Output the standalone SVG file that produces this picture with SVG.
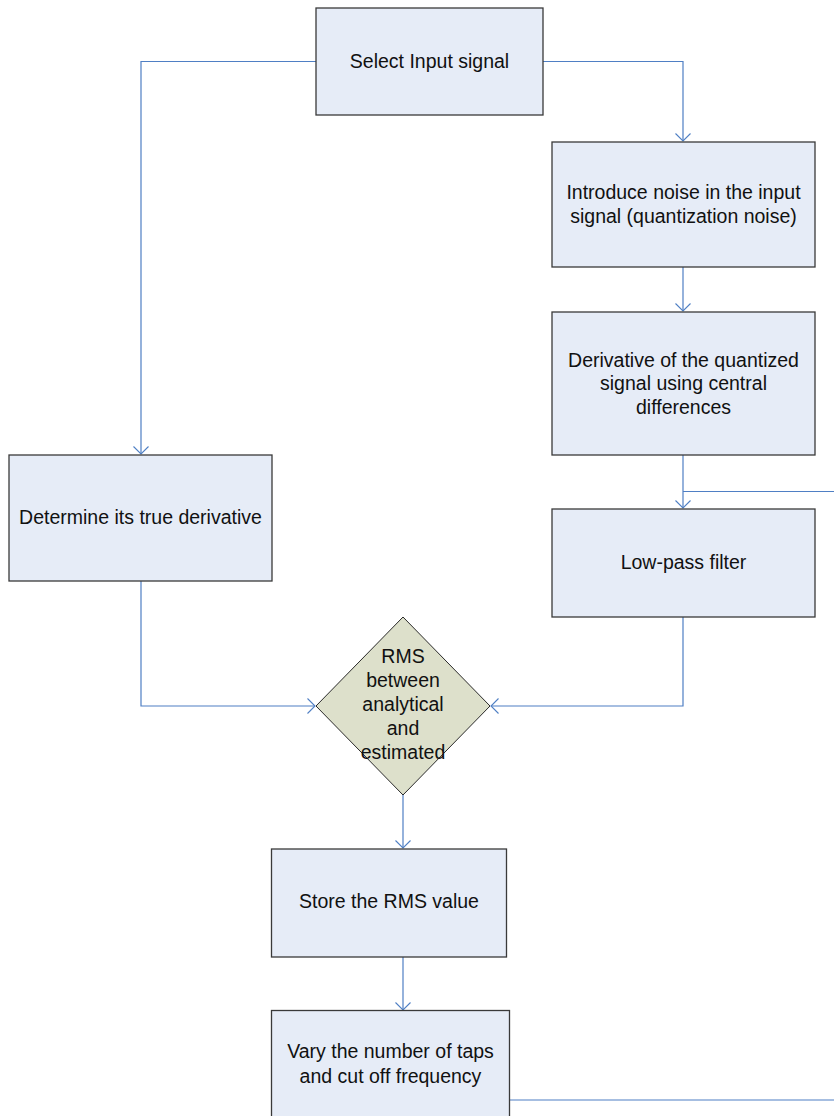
<svg xmlns="http://www.w3.org/2000/svg" width="834" height="1116" viewBox="0 0 834 1116">
<style>
.box{fill:#E6ECF7;stroke:#3a3a3a;stroke-width:1.3}
.dia{fill:#DDE0CB;stroke:#2a2a2a;stroke-width:1}
.t{font-family:"Liberation Sans",Arial,sans-serif;font-size:19.5px;fill:#111;text-anchor:middle}
.c{fill:none;stroke:#4F7FC4;stroke-width:1.2}
</style>
<defs>
<marker id="arr" markerWidth="20" markerHeight="20" refX="10" refY="10" orient="auto" markerUnits="userSpaceOnUse">
<path d="M2.5,2.5 L10,10 L2.5,17.5" fill="none" stroke="#4F7FC4" stroke-width="1.1"/>
</marker>
</defs>
<rect width="834" height="1116" fill="#fff"/>
<g id="connectors">
<path class="c" d="M543,61.5 H683 V141" marker-end="url(#arr)"/>
<path class="c" d="M316,61.5 H141 V454" marker-end="url(#arr)"/>
<path class="c" d="M683,267 V311" marker-end="url(#arr)"/>
<path class="c" d="M683,455 V508" marker-end="url(#arr)"/>
<path class="c" d="M683,491.5 H834"/>
<path class="c" d="M683,617 V706 H491" marker-end="url(#arr)"/>
<path class="c" d="M141,581 V706 H315" marker-end="url(#arr)"/>
<path class="c" d="M403,795 V848" marker-end="url(#arr)"/>
<path class="c" d="M403,957 V1010" marker-end="url(#arr)"/>
<path class="c" d="M510,1100 H834"/>
</g>
<g id="select">
<rect class="box" x="316" y="8" width="227" height="107"/>
<text class="t" x="429.5" y="68">Select Input signal</text>
</g>
<g id="noise">
<rect class="box" x="552" y="142" width="263" height="125"/>
<text class="t" x="683.5" y="199">Introduce noise in the input</text>
<text class="t" x="683.5" y="222.5">signal (quantization noise)</text>
</g>
<g id="derivative">
<rect class="box" x="552" y="312" width="263" height="143"/>
<text class="t" x="683.5" y="366.5">Derivative of the quantized</text>
<text class="t" x="683.5" y="390">signal using central</text>
<text class="t" x="683.5" y="413.5">differences</text>
</g>
<g id="lowpass">
<rect class="box" x="552" y="509" width="263" height="108"/>
<text class="t" x="683.5" y="569">Low-pass filter</text>
</g>
<g id="true">
<rect class="box" x="9" y="455" width="263" height="126"/>
<text class="t" x="140.5" y="524">Determine its true derivative</text>
</g>
<g id="rms">
<polygon class="dia" points="403,617 490,706 403,795 316,706"/>
<text class="t" x="403" y="663">RMS</text>
<text class="t" x="403" y="687">between</text>
<text class="t" x="403" y="711">analytical</text>
<text class="t" x="403" y="735">and</text>
<text class="t" x="403" y="758.5">estimated</text>
</g>
<g id="store">
<rect class="box" x="271.5" y="849" width="235" height="108"/>
<text class="t" x="389" y="908">Store the RMS value</text>
</g>
<g id="vary">
<rect class="box" x="271.5" y="1010.5" width="238" height="120"/>
<text class="t" x="390.5" y="1058">Vary the number of taps</text>
<text class="t" x="390.5" y="1082.5">and cut off frequency</text>
</g>
</svg>
